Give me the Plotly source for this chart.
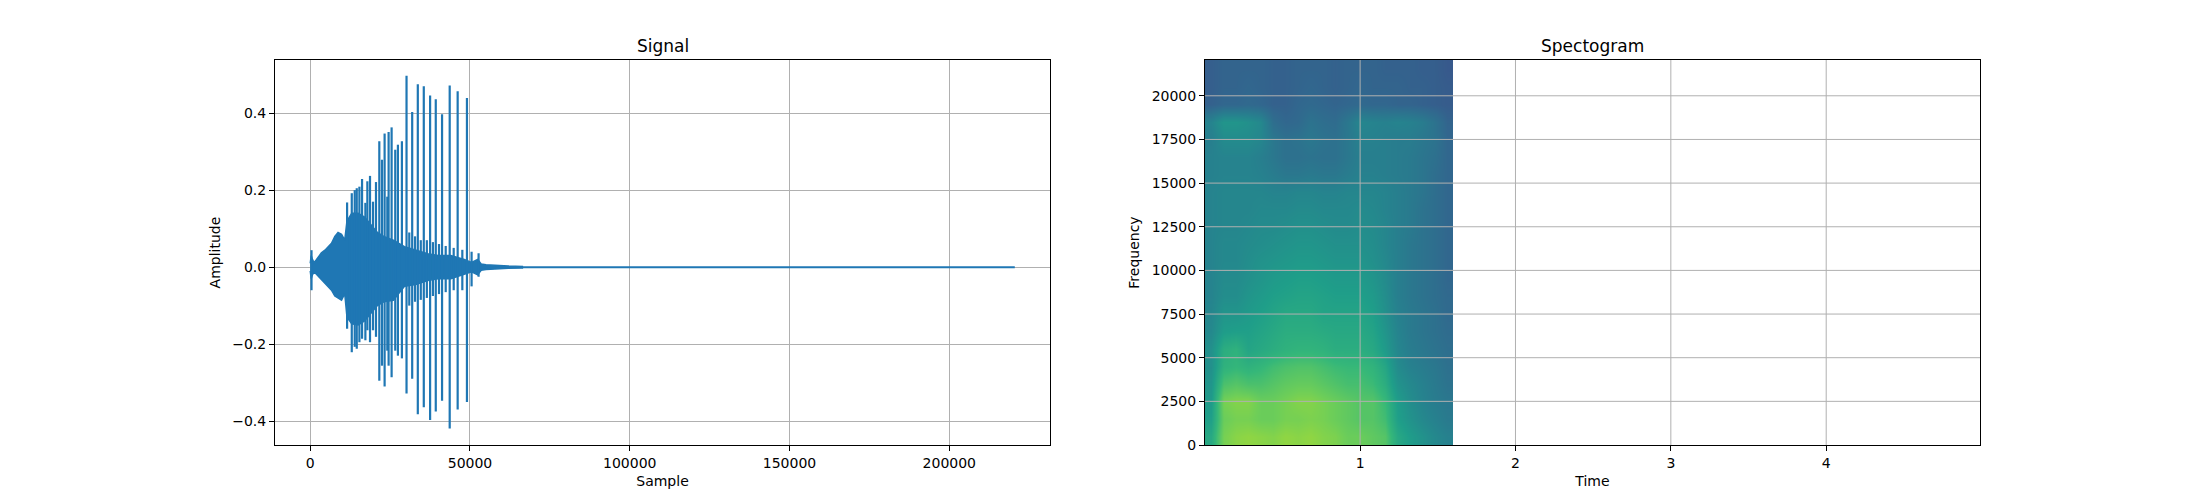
import plotly.graph_objects as go
from plotly.subplots import make_subplots

# ---- Signal: envelope of the waveform ----
n_samples = 220500
sound_end = 66400

# dense core of the waveform (upper / lower edge)
core_x = [0, 300, 700, 1200, 1800, 2500, 3500, 4600, 5600, 6650, 7700, 8700,
          9800, 10800, 11500, 13000, 15000, 17000, 19000, 21000, 23000, 26000,
          29500, 33000, 36800, 40000, 44000, 48200, 50500, 52400, 53500, 55000,
          58000, 62000, 66400]
core_hi = [0.01, 0.03, 0.02, 0.012, 0.018, 0.027, 0.037, 0.044, 0.053, 0.062,
           0.08, 0.09, 0.085, 0.07, 0.12, 0.14, 0.14, 0.13, 0.11, 0.09, 0.08,
           0.07, 0.053, 0.045, 0.035, 0.03, 0.03, 0.02, 0.012, 0.02, 0.008,
           0.006, 0.004, 0.003, 0.002]
core_lo = [-0.01, -0.03, -0.02, -0.012, -0.018, -0.025, -0.034, -0.041, -0.051,
           -0.06, -0.075, -0.079, -0.086, -0.069, -0.13, -0.147, -0.15, -0.14,
           -0.12, -0.1, -0.09, -0.086, -0.05, -0.045, -0.035, -0.03, -0.03,
           -0.018, -0.012, -0.02, -0.008, -0.006, -0.004, -0.003, -0.002]

# individual peaks (sample, max, min)
spike_x = [400, 11540, 13000, 13930, 14560, 15390, 16220, 17260, 17880, 18710,
           19650, 20580, 21620, 22450, 23280, 24120, 24530, 25470, 26610, 27440,
           28690, 30140, 31000, 31910, 32800, 33670, 34600, 35540, 36500, 37520,
           38400, 39290, 40300, 41260, 42400, 43650, 44900, 46140, 47600, 49050,
           50500, 52690]
spike_hi = [0.044, 0.168, 0.192, 0.2, 0.205, 0.209, 0.229, 0.167, 0.223, 0.237,
            0.17, 0.221, 0.327, 0.279, 0.347, 0.183, 0.351, 0.363, 0.305, 0.318,
            0.327, 0.497, 0.09, 0.403, 0.08, 0.475, 0.07, 0.47, 0.07, 0.446,
            0.065, 0.436, 0.06, 0.397, 0.055, 0.472, 0.05, 0.457, 0.045, 0.439,
            0.04, 0.036]
spike_lo = [-0.06, -0.16, -0.221, -0.207, -0.212, -0.195, -0.186, -0.19, -0.164,
            -0.195, -0.164, -0.181, -0.295, -0.256, -0.31, -0.217, -0.256, -0.286,
            -0.217, -0.23, -0.237, -0.328, -0.1, -0.29, -0.09, -0.382, -0.085,
            -0.364, -0.08, -0.397, -0.075, -0.375, -0.07, -0.347, -0.065, -0.419,
            -0.06, -0.37, -0.06, -0.35, -0.05, -0.025]

sig_xticks = [0, 50000, 100000, 150000, 200000]
sig_xticktext = ['0', '50000', '100000', '150000', '200000']
sig_yticks = [-0.4, -0.2, 0.0, 0.2, 0.4]
sig_yticktext = ['\u22120.4', '\u22120.2', '0.0', '0.2', '0.4']

# ---- Spectrogram: colour level (0..1 of viridis) per time / frequency bin ----
time_edges = [0.0, 0.08, 0.16, 0.24, 0.32, 0.40, 0.48, 0.56, 0.64, 0.72, 0.80,
              0.88, 0.96, 1.04, 1.12, 1.20, 1.28, 1.36, 1.44, 1.52, 1.595]
freq_edges = [0, 1000, 2000, 3000, 4000, 5000, 6000, 7000, 8000, 9000, 10000,
              11000, 12000, 13000, 14000, 15000, 16000, 17000, 18000, 19000,
              20000, 21000, 22050]
spec = [
    [0.60, 0.79, 0.82, 0.83, 0.82, 0.81, 0.83, 0.82, 0.83, 0.81, 0.80, 0.77, 0.77, 0.75, 0.73, 0.60, 0.55, 0.51, 0.47, 0.44],
    [0.56, 0.77, 0.79, 0.79, 0.77, 0.77, 0.79, 0.79, 0.80, 0.79, 0.77, 0.75, 0.73, 0.73, 0.69, 0.56, 0.51, 0.47, 0.44, 0.41],
    [0.54, 0.79, 0.81, 0.81, 0.77, 0.77, 0.79, 0.81, 0.81, 0.79, 0.77, 0.75, 0.73, 0.73, 0.67, 0.55, 0.49, 0.45, 0.42, 0.40],
    [0.52, 0.71, 0.73, 0.71, 0.71, 0.73, 0.75, 0.76, 0.76, 0.74, 0.72, 0.70, 0.70, 0.68, 0.62, 0.51, 0.47, 0.44, 0.41, 0.38],
    [0.50, 0.64, 0.66, 0.64, 0.66, 0.69, 0.71, 0.72, 0.72, 0.70, 0.68, 0.67, 0.67, 0.65, 0.59, 0.48, 0.44, 0.42, 0.40, 0.37],
    [0.50, 0.62, 0.64, 0.58, 0.60, 0.62, 0.64, 0.65, 0.65, 0.64, 0.62, 0.62, 0.62, 0.60, 0.54, 0.46, 0.42, 0.40, 0.38, 0.36],
    [0.47, 0.55, 0.56, 0.56, 0.58, 0.60, 0.62, 0.62, 0.62, 0.61, 0.60, 0.60, 0.60, 0.58, 0.52, 0.45, 0.41, 0.39, 0.37, 0.35],
    [0.46, 0.52, 0.52, 0.54, 0.56, 0.58, 0.60, 0.60, 0.60, 0.58, 0.58, 0.58, 0.58, 0.56, 0.50, 0.44, 0.41, 0.39, 0.37, 0.34],
    [0.45, 0.49, 0.49, 0.52, 0.54, 0.56, 0.57, 0.58, 0.58, 0.57, 0.56, 0.56, 0.56, 0.54, 0.49, 0.43, 0.40, 0.38, 0.36, 0.34],
    [0.45, 0.48, 0.48, 0.50, 0.52, 0.54, 0.55, 0.56, 0.56, 0.55, 0.54, 0.54, 0.54, 0.52, 0.48, 0.43, 0.40, 0.38, 0.36, 0.33],
    [0.45, 0.47, 0.47, 0.49, 0.51, 0.52, 0.53, 0.54, 0.54, 0.53, 0.52, 0.52, 0.52, 0.50, 0.47, 0.43, 0.40, 0.38, 0.36, 0.33],
    [0.45, 0.47, 0.47, 0.48, 0.49, 0.50, 0.51, 0.52, 0.52, 0.51, 0.50, 0.50, 0.50, 0.49, 0.46, 0.43, 0.40, 0.38, 0.36, 0.33],
    [0.45, 0.46, 0.46, 0.47, 0.48, 0.48, 0.49, 0.50, 0.50, 0.49, 0.48, 0.48, 0.49, 0.48, 0.46, 0.43, 0.41, 0.38, 0.36, 0.33],
    [0.45, 0.46, 0.46, 0.46, 0.47, 0.47, 0.47, 0.48, 0.48, 0.47, 0.47, 0.47, 0.48, 0.47, 0.45, 0.43, 0.41, 0.38, 0.36, 0.33],
    [0.45, 0.46, 0.46, 0.46, 0.46, 0.45, 0.45, 0.46, 0.46, 0.45, 0.45, 0.46, 0.46, 0.46, 0.45, 0.43, 0.41, 0.39, 0.36, 0.33],
    [0.44, 0.45, 0.45, 0.45, 0.44, 0.42, 0.40, 0.40, 0.41, 0.40, 0.40, 0.42, 0.44, 0.44, 0.43, 0.42, 0.41, 0.39, 0.36, 0.33],
    [0.44, 0.45, 0.45, 0.45, 0.43, 0.40, 0.37, 0.37, 0.38, 0.37, 0.37, 0.40, 0.43, 0.43, 0.43, 0.42, 0.41, 0.39, 0.37, 0.33],
    [0.43, 0.48, 0.48, 0.48, 0.46, 0.40, 0.37, 0.38, 0.40, 0.38, 0.37, 0.40, 0.44, 0.44, 0.43, 0.42, 0.42, 0.40, 0.38, 0.33],
    [0.45, 0.52, 0.52, 0.50, 0.47, 0.36, 0.33, 0.34, 0.38, 0.36, 0.35, 0.40, 0.46, 0.45, 0.44, 0.45, 0.44, 0.42, 0.38, 0.32],
    [0.31, 0.33, 0.33, 0.34, 0.33, 0.31, 0.31, 0.33, 0.34, 0.33, 0.32, 0.33, 0.34, 0.33, 0.33, 0.32, 0.32, 0.31, 0.30, 0.29],
    [0.30, 0.32, 0.32, 0.33, 0.32, 0.31, 0.31, 0.32, 0.33, 0.32, 0.31, 0.32, 0.33, 0.32, 0.32, 0.32, 0.31, 0.31, 0.30, 0.29],
    [0.30, 0.32, 0.32, 0.32, 0.32, 0.31, 0.31, 0.32, 0.32, 0.32, 0.31, 0.32, 0.32, 0.32, 0.31, 0.31, 0.31, 0.30, 0.30, 0.28],
]

spec_xticks = [1, 2, 3, 4]
spec_yticks = [0, 2500, 5000, 7500, 10000, 12500, 15000, 17500, 20000]
spec_yticktext = ['0', '2500', '5000', '7500', '10000', '12500', '15000',
                  '17500', '20000']

blue = '#1f77b4'
grid = '#b0b0b0'
font = 'DejaVu Sans'

fig = make_subplots(rows=1, cols=2, horizontal_spacing=0.0909,
                    subplot_titles=('Signal', 'Spectogram'))

# dense part of the wave as a filled band
fig.add_trace(go.Scatter(
    x=core_x + core_x[::-1], y=core_hi + core_lo[::-1],
    fill='toself', fillcolor=blue, mode='lines',
    line=dict(color=blue, width=1.5), showlegend=False, hoverinfo='skip'),
    row=1, col=1)

# peaks as vertical strokes
px, py = [], []
for s, hi, lo in zip(spike_x, spike_hi, spike_lo):
    px += [s, s, None]
    py += [hi, lo, None]
fig.add_trace(go.Scatter(x=px, y=py, mode='lines',
                         line=dict(color=blue, width=2.2), showlegend=False),
              row=1, col=1)

# silent remainder
fig.add_trace(go.Scatter(x=[sound_end, n_samples], y=[0, 0], mode='lines',
                         line=dict(color=blue, width=2), showlegend=False),
              row=1, col=1)

fig.add_trace(go.Heatmap(x=time_edges, y=freq_edges, z=spec,
                         colorscale='Viridis', zmin=0, zmax=1,
                         showscale=False, zsmooth='best'),
              row=1, col=2)

axis_style = dict(showline=True, mirror=True, linecolor='black', linewidth=1,
                  ticks='outside', ticklen=5, tickwidth=1, tickcolor='black',
                  zeroline=False, gridcolor=grid, gridwidth=1,
                  automargin=False,
                  tickfont=dict(family=font, size=14, color='black'),
                  title_font=dict(family=font, size=14, color='black'))

fig.update_xaxes(axis_style)
fig.update_yaxes(axis_style)

fig.update_xaxes(range=[-11025, 231525], tickvals=sig_xticks,
                 ticktext=sig_xticktext, title_text='Sample',
                 title_standoff=6, row=1, col=1)
fig.update_yaxes(range=[-0.462, 0.538], tickvals=sig_yticks,
                 ticktext=sig_yticktext, title_text='Amplitude',
                 title_standoff=8, row=1, col=1)
fig.update_xaxes(range=[0.0015, 4.99], tickvals=spec_xticks,
                 title_text='Time', title_standoff=6, showgrid=False,
                 row=1, col=2)
fig.update_yaxes(range=[0, 22050], tickvals=spec_yticks,
                 ticktext=spec_yticktext, title_text='Frequency',
                 title_standoff=8, showgrid=False, row=1, col=2)

# matplotlib draws the grid over the image, so put it on top as shapes
for t in spec_xticks:
    fig.add_shape(type='line', xref='x2', yref='y2 domain', x0=t, x1=t,
                  y0=0, y1=1, line=dict(color=grid, width=1), layer='above')
for f in spec_yticks:
    if f > 0:
        fig.add_shape(type='line', xref='x2 domain', yref='y2', x0=0, x1=1,
                      y0=f, y1=f, line=dict(color=grid, width=1),
                      layer='above')

fig.update_annotations(font=dict(family=font, size=17, color='black'),
                       yshift=2)

# page body adds 8px on top/left, so shift the margins to compensate
fig.update_layout(width=2200, height=500, paper_bgcolor='white',
                  plot_bgcolor='white', showlegend=False,
                  margin=dict(l=267, r=228, t=52, b=63),
                  font=dict(family=font, color='black'))

fig.write_html('out.html')
